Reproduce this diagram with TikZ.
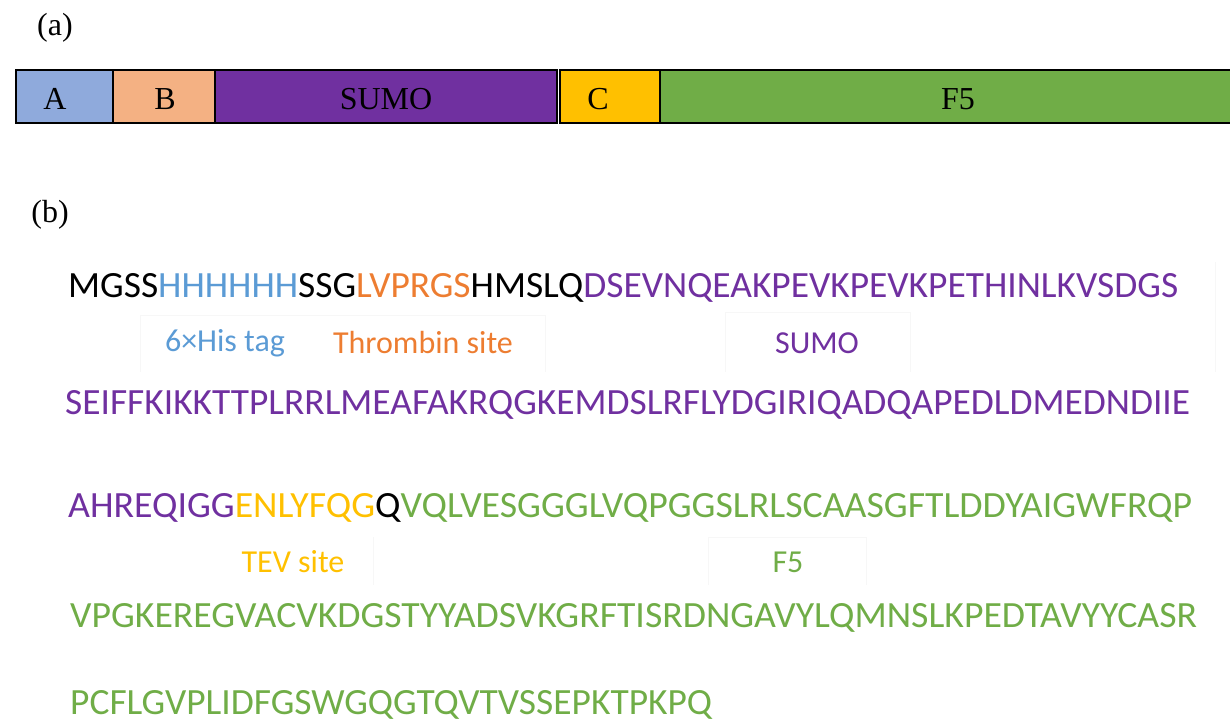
\documentclass[tikz,border=0pt]{standalone}
\usepackage{fontspec}
\usepackage{graphicx}
\setmainfont{Liberation Serif}
\newfontfamily\seqfont{Carlito}
\definecolor{cA}{HTML}{8FAADC}
\definecolor{cB}{HTML}{F4B183}
\definecolor{cSumo}{HTML}{7030A0}
\definecolor{cC}{HTML}{FFC000}
\definecolor{cF}{HTML}{70AD47}
\definecolor{tHis}{HTML}{5B9BD5}
\definecolor{tThr}{HTML}{ED7D31}
\definecolor{tSumo}{HTML}{7030A0}
\definecolor{tTev}{HTML}{FFC000}
\definecolor{tF}{HTML}{70AD47}
\definecolor{faint}{HTML}{F7F7F7}
\tikzset{
  seg/.style={draw=black, line width=2pt, inner sep=0pt},
  seqline/.style={anchor=base west, inner sep=0pt, font=\seqfont\fontsize{37}{40}\selectfont},
  lbl/.style={inner sep=0pt, font=\seqfont\fontsize{32}{34}\selectfont},
  panel/.style={inner sep=0pt, font=\fontsize{32}{34}\selectfont},
  faintbox/.style={draw=faint, line width=0.8pt}
}
\begin{document}
\begin{tikzpicture}[x=1pt,y=-1pt]
\useasboundingbox (0,0) rectangle (1230,722);
% panel labels
\node[panel] (pa) at (55,28) {(a)};
\node[panel] (pb) at (50,215) {(b)};
% domain bar
\begin{scope}
\clip (0,60) rectangle (1230,135);
\draw[seg, fill=cA] (16,70) rectangle (113,123);
\draw[seg, fill=cB] (113,70) rectangle (215,123);
\draw[seg, fill=cSumo] (215,70) rectangle (557,123);
\draw[seg, fill=cC] (560,70) rectangle (660,123);
\draw[seg, fill=cF] (660,70) rectangle (1240,123);
\end{scope}
\node[panel] (nA) at (55,99) {A};
\node[panel] (nB) at (165,99) {B};
\node[panel] (nS) at (386,99) {SUMO};
\node[panel] (nC) at (598,99) {C};
\node[panel] (nF) at (958,99) {F5};
% faint text boxes
\draw[faintbox] (140,372) -- (140,315) -- (545,315) -- (545,372);
\draw[faintbox] (725,372) -- (725,312) -- (910,312) -- (910,372);
\draw[faintbox] (1215,262) -- (1215,372);
\draw[faintbox] (373,585) -- (373,537);
\draw[faintbox] (708,585) -- (708,537) -- (866,537) -- (866,585);
% sequence lines
\node[seqline] (l1) at (68,297) {\resizebox{1110pt}{\height}{\color{black}MGSS\textcolor{tHis}{HHHHHH}SSG\textcolor{tThr}{LVPRGS}HMSLQ\textcolor{tSumo}{DSEVNQEAKPEVKPEVKPETHINLKVSDGS}}};
\node[lbl, text=tHis] (h1) at (225,343) {6×His tag};
\node[lbl, text=tThr] (h2) at (423,343) {Thrombin site};
\node[lbl, text=tSumo] (h3) at (817,343) {SUMO};
\node[seqline] (l2) at (65,414) {\resizebox{1125pt}{\height}{\color{tSumo}SEIFFKIKKTTPLRRLMEAFAKRQGKEMDSLRFLYDGIRIQADQAPEDLDMEDNDIIE}};
\node[seqline] (l3) at (68,517) {\resizebox{1124pt}{\height}{\textcolor{tSumo}{AHREQIGG}\textcolor{tTev}{ENLYFQG}\textcolor{black}{Q}\textcolor{tF}{VQLVESGGGLVQPGGSLRLSCAASGFTLDDYAIGWFRQP}}};
\node[lbl, text=tTev] (h4) at (293,562) {TEV site};
\node[lbl, text=tF] (h5) at (788,562) {F5};
\node[seqline] (l4) at (70,627) {\resizebox{1127pt}{\height}{\color{tF}VPGKEREGVACVKDGSTYYADSVKGRFTISRDNGAVYLQMNSLKPEDTAVYYCASR}};
\node[seqline] (l5) at (70,714) {\resizebox{642pt}{\height}{\color{tF}PCFLGVPLIDFGSWGQGTQVTVSSEPKTPKPQ}};
\end{tikzpicture}
\end{document}
